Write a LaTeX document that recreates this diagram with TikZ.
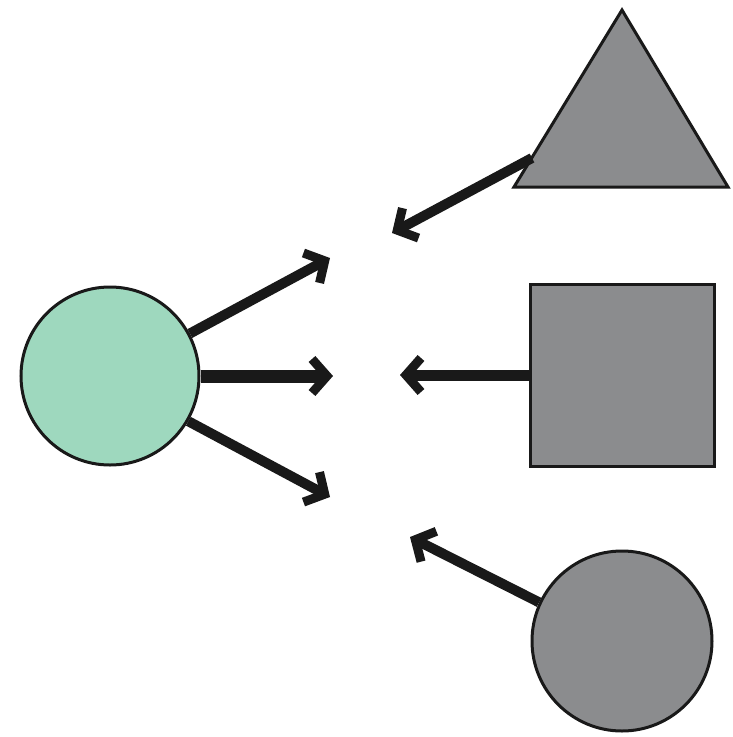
\documentclass[tikz,border=0pt]{standalone}
\usetikzlibrary{arrows.meta}
\definecolor{mint}{HTML}{9ED8BE}
\definecolor{shapegray}{HTML}{8B8C8E}
\tikzset{
  shp/.style={draw=black!90, line width=3pt, inner sep=0pt},
  arr/.style={draw=black!90, line width=10pt, -{Straight Barb[length=15pt, width=34pt, line width=9pt]}},
}
\begin{document}
\begin{tikzpicture}[x=1pt,y=-1pt]
\useasboundingbox (0,0) rectangle (733,737);
% shapes
\node[shp, circle, fill=mint, minimum size=178pt] (g) at (110,376) {};
\node[shp, rectangle, fill=shapegray, minimum width=184pt, minimum height=182pt] (sq) at (622,375) {};
\node[shp, circle, fill=shapegray, minimum size=180pt] (gc) at (622,641) {};
\coordinate (ta) at (622,10);
\coordinate (tl) at (514,187);
\coordinate (tr) at (728,187);
\draw[shp, fill=shapegray, line join=miter] (ta) -- (tr) -- (tl) -- cycle;
\coordinate (tedge) at (532,158);
% free ends
\coordinate (o1) at (330,258);
\coordinate (o2) at (333,376);
\coordinate (o3) at (330,497);
\coordinate (i1) at (392,233);
\coordinate (i2) at (400,375);
\coordinate (i3) at (410,537);
% connectors
\draw[arr] (g.28) -- (o1);
\draw[arr, line width=13pt] (g.east) -- (o2);
\draw[arr] (g.-30) -- (o3);
\draw[arr] (tedge) -- (i1);
\draw[arr, line width=11pt] (sq.west) -- (i2);
\draw[arr] (gc.155) -- (i3);
\end{tikzpicture}
\end{document}
